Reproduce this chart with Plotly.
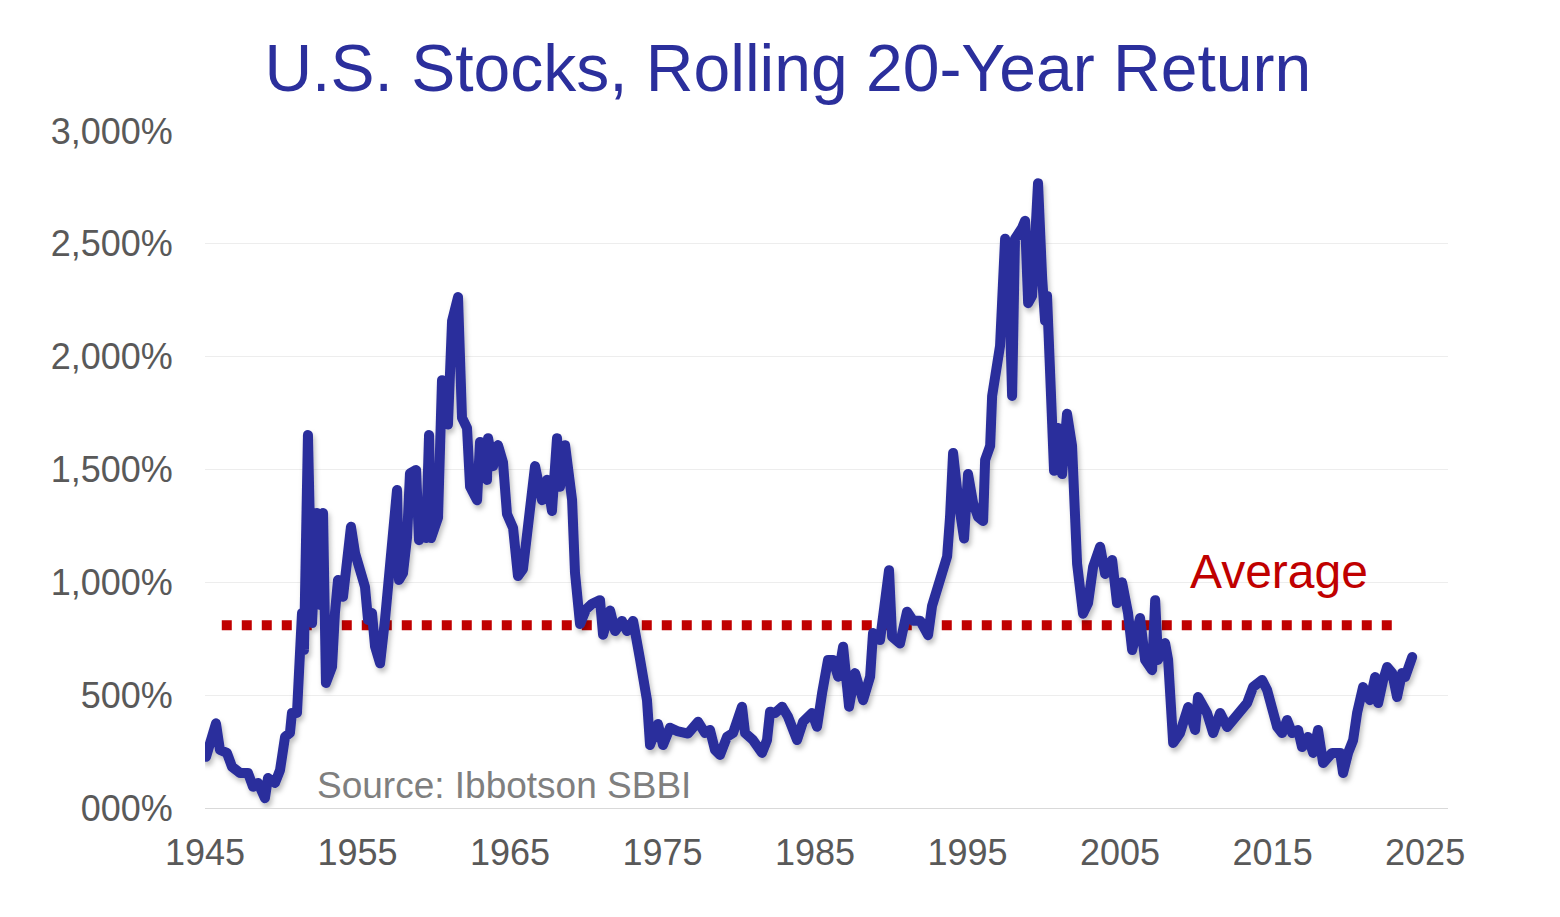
import plotly.graph_objects as go

# ---- data ----
years = [
    1945.07, 1945.72, 1945.98, 1946.44, 1946.77, 1947.30, 1947.82, 1948.15, 1948.48, 1948.93,
    1949.13, 1949.59, 1949.92, 1950.25, 1950.57, 1950.70, 1951.03, 1951.23, 1951.36, 1951.49,
    1951.75, 1952.02, 1952.34, 1952.54, 1952.74, 1952.93, 1953.33, 1953.52, 1953.72, 1954.05,
    1954.31, 1954.57, 1954.84, 1955.16, 1955.49, 1955.69, 1955.95, 1956.15, 1956.48, 1956.80,
    1957.13, 1957.59, 1957.72, 1957.98, 1958.25, 1958.44, 1958.84, 1959.03, 1959.30, 1959.49,
    1959.69, 1959.82, 1960.28, 1960.54, 1960.93, 1961.20, 1961.59, 1961.85, 1962.18, 1962.38,
    1962.84, 1963.03, 1963.49, 1963.56, 1963.89, 1964.21, 1964.54, 1964.80, 1965.20, 1965.52,
    1965.85, 1966.18, 1966.64, 1967.10, 1967.43, 1967.75, 1968.08, 1968.28, 1968.61, 1969.07,
    1969.26, 1969.59, 1969.98, 1970.38, 1970.90, 1971.10, 1971.56, 1971.89, 1972.34, 1972.67,
    1973.07, 1973.52, 1973.98, 1974.18, 1974.70, 1975.03, 1975.49, 1975.95, 1976.67, 1977.33,
    1977.79, 1978.11, 1978.44, 1978.77, 1979.23, 1979.62, 1980.21, 1980.41, 1980.93, 1981.52,
    1981.85, 1982.05, 1982.38, 1982.84, 1983.23, 1983.82, 1984.21, 1984.80, 1985.13, 1985.46,
    1985.85, 1986.18, 1986.51, 1986.84, 1987.23, 1987.62, 1988.15, 1988.61, 1988.80, 1989.26,
    1989.85, 1990.05, 1990.57, 1991.03, 1991.43, 1991.89, 1992.41, 1992.67, 1993.07, 1993.39,
    1993.66, 1993.85, 1994.05, 1994.38, 1994.77, 1995.03, 1995.36, 1995.69, 1996.02, 1996.15,
    1996.48, 1996.61, 1996.93, 1997.13, 1997.26, 1997.46, 1997.66, 1997.92, 1998.11, 1998.31,
    1998.57, 1998.77, 1998.97, 1999.23, 1999.62, 1999.89, 2000.08, 2000.21, 2000.34, 2000.54,
    2000.67, 2000.93, 2001.20, 2001.52, 2001.85, 2002.18, 2002.57, 2002.90, 2003.23, 2003.69,
    2004.02, 2004.48, 2004.80, 2005.13, 2005.52, 2005.79, 2006.31, 2006.64, 2007.10, 2007.30,
    2007.49, 2007.95, 2008.15, 2008.48, 2008.93, 2009.46, 2009.92, 2010.11, 2010.70, 2011.10,
    2011.56, 2012.02, 2012.41, 2012.87, 2013.33, 2013.72, 2014.31, 2014.64, 2014.97, 2015.30,
    2015.62, 2015.95, 2016.28, 2016.67, 2016.93, 2017.33, 2017.66, 2017.98, 2018.31, 2018.90,
    2019.43, 2019.62, 2019.95, 2020.28, 2020.54, 2020.93, 2021.20, 2021.39, 2021.72, 2021.92,
    2022.25, 2022.51, 2022.84, 2023.16, 2023.49, 2023.69, 2024.15,
]
returns_pct = [
    227, 375, 257, 244, 183, 155, 155, 94, 111, 43,
    133, 111, 168, 316, 332, 421, 421, 660, 864, 700,
    1653, 820, 1307, 900, 1307, 554, 626, 864, 1010, 936,
    1150, 1246, 1129, 1041, 980, 833, 864, 715, 641, 833,
    1040, 1409, 1010, 1040, 1200, 1483, 1498, 1187, 1250, 1196,
    1653, 1196, 1287, 1896, 1699, 2158, 2264, 1729, 1684, 1424,
    1364, 1622, 1454, 1639, 1515, 1608, 1531, 1303, 1241, 1028,
    1059, 1241, 1515, 1364, 1454, 1316, 1639, 1424, 1608, 1364,
    1042, 815, 880, 905, 921, 768, 875, 784, 829, 784,
    829, 661, 478, 279, 372, 279, 356, 341, 330, 382,
    332, 346, 257, 235, 316, 332, 449, 332, 301, 244,
    301, 427, 421, 449, 404, 301, 382, 421, 360, 509,
    656, 656, 582, 715, 449, 598, 478, 582, 775, 744,
    1054, 759, 729, 870, 830, 830, 766, 895, 972, 1051,
    1115, 1289, 1573, 1369, 1194, 1480, 1352, 1289, 1272, 1542,
    1605, 1826, 1985, 2048, 2237, 2523, 2477, 1826, 2523, 2539,
    2570, 2602, 2237, 2269, 2769, 2348, 2159, 2269, 2048, 1700,
    1494, 1684, 1480, 1747, 1605, 1083, 861, 908, 1068, 1158,
    1037, 1099, 908, 1000, 864, 700, 842, 656, 611, 921,
    656, 731, 656, 288, 332, 447, 346, 492, 421, 332,
    421, 359, 390, 421, 465, 536, 567, 523, 434, 359,
    332, 390, 332, 346, 270, 315, 244, 346, 199, 244,
    244, 155, 244, 301, 421, 536, 492, 478, 580, 465,
    567, 625, 598, 492, 598, 580, 669,
]
average_pct = 810
average_span = [1946.1, 2023.4]

y_tickvals = [0, 500, 1000, 1500, 2000, 2500, 3000]
y_ticktext = ["000%", "500%", "1,000%", "1,500%", "2,000%", "2,500%", "3,000%"]
x_tickvals = [1945, 1955, 1965, 1975, 1985, 1995, 2005, 2015, 2025]

title_text = "U.S. Stocks, Rolling 20-Year Return"
average_label = "Average"
source_label = "Source: Ibbotson SBBI"

# ---- styles ----
BLUE = "#2B2F9C"
RED = "#C00000"
GRAY = "#595959"
FONT = "Liberation Sans, Arial, sans-serif"

fig = go.Figure()

fig.add_trace(go.Scatter(
    x=average_span, y=[average_pct, average_pct], mode="lines",
    line=dict(color=RED, width=10, dash="dot"), hoverinfo="skip", showlegend=False,
))
fig.add_trace(go.Scatter(
    x=years, y=returns_pct, mode="lines",
    line=dict(color=BLUE, width=10), showlegend=False,
))

fig.add_annotation(
    x=2015.4, y=1048, text=average_label, showarrow=False,
    xanchor="center", yanchor="middle",
    font=dict(family=FONT, size=48, color=RED),
)
fig.add_annotation(
    x=1952.2, y=100, text=source_label, showarrow=False,
    xanchor="left", yanchor="middle",
    font=dict(family=FONT, size=37, color="#7F7F7F"),
)

fig.update_layout(
    width=1560, height=917,
    margin=dict(l=205, r=112, t=131, b=109),
    paper_bgcolor="white", plot_bgcolor="white",
    font=dict(family=FONT, color=GRAY),
    title=dict(
        text=title_text, x=0.505, xanchor="center",
        y=0.926, yanchor="middle", yref="container",
        font=dict(family=FONT, size=66, color=BLUE),
    ),
    xaxis=dict(
        range=[1945, 2026.5], tickvals=x_tickvals, showgrid=False,
        showline=True, linecolor="#D9D9D9", linewidth=1,
        ticks="outside", ticklen=13, tickcolor="rgba(0,0,0,0)",
        tickfont=dict(family=FONT, size=36, color=GRAY), zeroline=False,
    ),
    yaxis=dict(
        range=[0, 3000], tickvals=y_tickvals, ticktext=y_ticktext,
        showgrid=True, gridcolor="#EDEDED", gridwidth=1,
        ticks="outside", ticklen=24, tickcolor="rgba(0,0,0,0)",
        tickfont=dict(family=FONT, size=36, color=GRAY), zeroline=False,
        showline=False,
    ),
)

post = """
document.body.style.margin='0';
document.body.style.overflow='hidden';
var svg=document.querySelector('.main-svg');
var NS='http://www.w3.org/2000/svg';
var defs=document.createElementNS(NS,'defs');
var f=document.createElementNS(NS,'filter');
f.setAttribute('id','lineshadow');f.setAttribute('x','-5%');f.setAttribute('y','-5%');
f.setAttribute('width','110%');f.setAttribute('height','115%');
var ds=document.createElementNS(NS,'feDropShadow');
ds.setAttribute('dx','2');ds.setAttribute('dy','4');ds.setAttribute('stdDeviation','2.5');
ds.setAttribute('flood-color','#000');ds.setAttribute('flood-opacity','0.25');
f.appendChild(ds);defs.appendChild(f);svg.insertBefore(defs,svg.firstChild);
var ls=document.querySelectorAll('.scatterlayer .trace');
if(ls.length>1){ls[1].querySelectorAll('path.js-line').forEach(function(p){
  p.style.strokeLinejoin='round';p.style.strokeLinecap='round';
  p.setAttribute('filter','url(#lineshadow)');});}
"""
fig.write_html("out.html", post_script=post, config={"displayModeBar": False})
